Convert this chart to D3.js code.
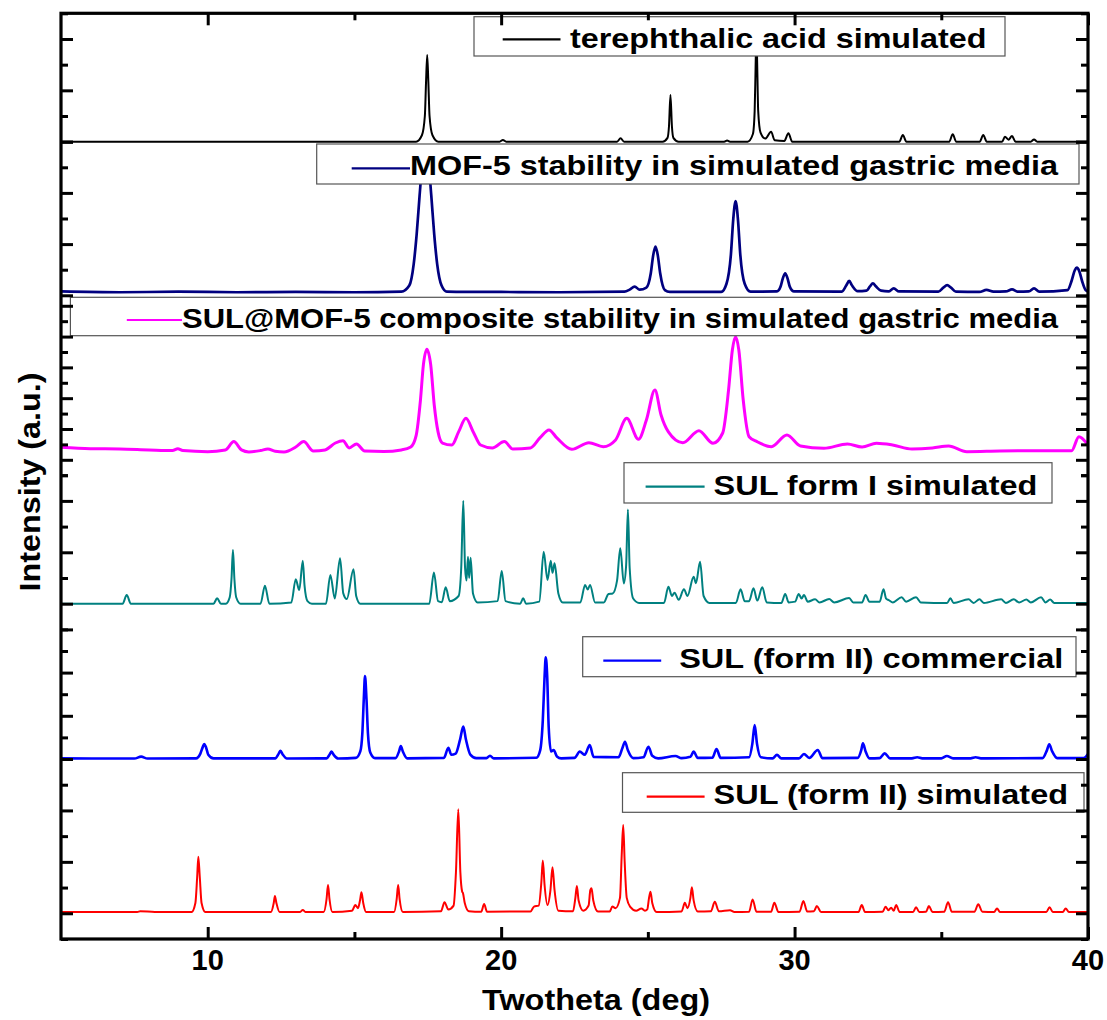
<!DOCTYPE html>
<html>
<head>
<meta charset="utf-8">
<script src="https://cdn.jsdelivr.net/npm/d3@7/dist/d3.min.js"></script>
<style>
  body { margin: 0; background: #fff; }
  svg text { font-family: "Liberation Sans", Arial, sans-serif; font-weight: bold; fill: #000; }
</style>
</head>
<body>
<svg id="chart" width="1107" height="1020"></svg>
<script>
// ---------- data: [2theta (deg), intensity (a.u., per-panel units)] ----------
const xMajorTicks = [10, 20, 30, 40];
const xMinorTicks = [15, 25, 35];
const xTickLabels = ["10", "20", "30", "40"];

const seriesLabels = [
  "terephthalic acid simulated",
  "MOF-5 stability in simulated gastric media",
  "SUL@MOF-5 composite stability in simulated gastric media",
  "SUL form I simulated",
  "SUL (form II) commercial",
  "SUL (form II) simulated"
];

const terephthalicSim = [
  [5,0],[17.1,0],[17.3,0.25],[17.4,1.0],[17.44,2.3],[17.48,3.38],[17.52,2.3],[17.56,1.0],[17.66,0.25],[17.86,0],
  [19.95,0],[20.06,0.07],[20.17,0],
  [23.95,0],[24.07,0.13],[24.19,0],
  [25.5,0],[25.67,0.15],[25.72,0.6],[25.77,1.82],[25.82,0.6],[25.87,0.15],[26.05,0],
  [27.6,0],[27.7,0.05],[27.8,0],
  [28.4,0],[28.58,0.3],[28.64,1.2],[28.67,2.8],[28.7,4.3],[28.73,2.8],[28.76,1.2],[28.84,0.35],[29.0,0.12],[29.2,0.39],[29.32,0.06],[29.65,0.03],[29.79,0.33],[29.92,0],
  [33.57,0],[33.69,0.26],[33.81,0],
  [35.27,0],[35.39,0.29],[35.51,0],
  [36.31,0],[36.43,0.26],[36.55,0],
  [37.07,0],[37.17,0.19],[37.29,0.08],[37.41,0.22],[37.53,0],
  [38.05,0],[38.16,0.09],[38.27,0],
  [40,0]
];

const mof5Gastric = [
  [5,0.15],[7,0.12],[9,0.14],[11,0.12],[13,0.13],[15,0.12],[16.6,0.14],
  [16.87,0.38],[17.02,1.22],[17.12,2.37],[17.22,3.88],[17.32,5.24],[17.42,5.8],[17.52,5.24],[17.62,3.88],[17.72,2.37],[17.82,1.22],[17.97,0.38],[18.15,0.14],
  [20,0.13],[22,0.12],[24.2,0.14],
  [24.38,0.22],[24.55,0.34],[24.72,0.22],
  [24.95,0.3],[25.1,0.86],[25.18,1.55],[25.26,1.9],[25.34,1.55],[25.42,0.86],[25.58,0.2],[25.75,0.13],
  [27.5,0.13],[27.68,0.45],[27.83,1.59],[27.91,2.97],[27.99,3.68],[28.07,2.97],[28.15,1.59],[28.3,0.45],[28.5,0.14],
  [29.4,0.15],[29.52,0.33],[29.6,0.66],[29.68,0.86],[29.76,0.66],[29.84,0.33],[29.98,0.15],
  [31.6,0.14],[31.76,0.38],[31.86,0.56],[31.96,0.38],[32.15,0.16],
  [32.45,0.18],[32.57,0.35],[32.67,0.47],[32.77,0.35],[32.95,0.18],
  [33.2,0.15],[33.38,0.27],[33.56,0.15],
  [34.9,0.14],[35.07,0.3],[35.2,0.4],[35.33,0.3],[35.5,0.14],
  [36.3,0.13],[36.54,0.21],[36.78,0.14],
  [37.2,0.15],[37.41,0.23],[37.62,0.14],
  [37.98,0.15],[38.16,0.27],[38.34,0.14],
  [39.3,0.2],[39.45,0.6],[39.55,0.98],[39.62,1.08],[39.7,0.95],[39.8,0.55],[39.92,0.2],[40,0.15]
];

const sulMof5Gastric = [
  [5.0,0.81],[6.0,0.72],[7.0,0.70],[8.0,0.64],[8.8,0.6],[8.98,0.72],[9.15,0.6],[10.0,0.53],[10.6,0.64],[10.89,1.18],
  [11.15,0.64],[11.4,0.51],[11.8,0.6],[12.05,0.70],[12.3,0.55],[12.6,0.51],[13.0,0.83],[13.27,1.18],[13.6,0.57],[14.0,0.64],
  [14.35,1.09],[14.61,1.24],[14.82,0.77],[15.07,1.03],[15.35,0.57],[16.0,0.54],[16.6,0.64],[16.92,0.83],[17.1,1.55],[17.25,3.88],
  [17.35,6.16],[17.47,7.18],[17.6,6.16],[17.72,3.56],[17.85,1.81],[18.0,1.09],[18.32,0.96],[18.55,1.81],[18.8,2.69],[19.05,1.81],
  [19.3,0.96],[19.7,0.77],[20.11,1.18],[20.4,0.70],[21.0,0.77],[21.32,1.42],[21.63,1.94],[21.9,1.42],[22.41,0.68],[22.99,1.11],
  [23.48,0.85],[23.9,1.29],[24.28,2.69],[24.68,1.33],[24.95,2.58],[25.24,4.53],[25.45,2.91],[25.7,1.81],[26.19,1.11],[26.74,1.89],
  [27.22,1.07],[27.55,1.74],[27.75,4.53],[27.88,7.13],[27.99,7.99],[28.1,7.13],[28.25,3.88],[28.45,1.5],[28.72,1.18],[29.21,0.85],
  [29.74,1.61],[30.2,0.9],[31.0,0.75],[31.8,1.03],[32.3,0.83],[32.79,1.07],[33.34,0.96],[34.0,0.70],[34.7,0.77],[35.25,0.9],
  [35.87,0.53],[37.0,0.57],[38.5,0.59],[39.44,0.59],[39.69,1.5],[40.0,0.96]
];

const sulFormISim = [
  [5,0],[7.1,0],[7.24,0.34],[7.38,0],
  [10.2,0],[10.32,0.21],[10.45,0],
  [10.62,0],[10.75,0.25],[10.81,0.95],[10.86,2.09],[10.91,0.95],[10.97,0.25],[11.12,0],
  [11.8,0],[11.95,0.7],[12.1,0],
  [12.85,0.05],[13.0,0.95],[13.12,0.53],[13.24,1.67],[13.3,0.7],[13.4,0.1],[13.55,0],
  [14.03,0],[14.18,1.12],[14.33,0.2],[14.51,1.77],[14.62,0.4],[14.74,0.18],[14.97,1.34],[15.06,0.3],[15.2,0],
  [17.55,0],[17.71,1.21],[17.85,0.1],[17.98,0.06],[18.11,0.64],[18.25,0.1],
  [18.55,0.3],[18.64,1.4],[18.71,4.01],[18.77,1.4],[18.82,0.9],[18.87,1.83],[18.91,1.0],[18.96,1.79],[19.04,0.4],[19.2,0.05],
  [19.88,0.1],[20.02,1.27],[20.15,0.1],
  [20.65,0],[20.75,0.21],[20.85,0],
  [21.3,0.08],[21.45,2.02],[21.58,0.92],[21.69,1.67],[21.75,1.2],[21.82,1.57],[21.95,0.4],[22.1,0.05],
  [22.7,0.05],[22.86,0.73],[22.95,0.55],[23.03,0.73],[23.2,0.05],
  [23.5,0.05],[23.66,0.38],[23.8,0.4],[23.95,0.9],[24.06,2.16],[24.18,0.79],[24.26,1.5],[24.32,3.67],[24.38,1.4],[24.5,0.2],[24.7,0.03],
  [25.55,0.03],[25.7,0.66],[25.82,0.3],[25.91,0.43],[26.05,0.15],[26.23,0.56],[26.35,0.3],[26.56,1.05],[26.64,0.8],[26.78,1.63],[26.9,0.3],[27.1,0.03],
  [28.0,0.03],[28.16,0.56],[28.3,0.1],[28.45,0.1],[28.6,0.6],[28.73,0.12],[28.9,0.64],[29.05,0.05],
  [29.55,0.03],[29.68,0.38],[29.8,0.05],
  [30.02,0.08],[30.14,0.38],[30.24,0.2],[30.32,0.34],[30.45,0.08],[30.7,0.17],[30.85,0.05],
  [31.18,0.18],[31.35,0.05],[31.86,0.22],[32.0,0.05],
  [32.3,0.05],[32.42,0.34],[32.55,0.08],[32.9,0.08],[33.03,0.56],[33.12,0.2],[33.21,0.14],[33.35,0.05],
  [33.65,0.25],[33.8,0.08],[34.14,0.25],[34.3,0.05],
  [35.2,0.03],[35.31,0.21],[35.42,0.03],[35.93,0.17],[36.1,0.03],[36.3,0.17],[36.45,0.03],
  [37.04,0.17],[37.2,0.03],[37.47,0.17],[37.65,0.05],[37.9,0.16],[38.05,0.05],[38.4,0.25],[38.55,0.05],[38.71,0.16],[38.85,0.03],[40,0.03]
];

const sulFormIICommercial = [
  [5,0.03],[7.5,0.02],[7.73,0.11],[7.95,0.02],
  [9.6,0.03],[9.75,0.25],[9.83,0.55],[9.88,0.69],[9.94,0.55],[10.02,0.2],[10.2,0.03],
  [12.3,0.03],[12.42,0.25],[12.48,0.38],[12.56,0.2],[12.7,0.02],
  [14.05,0.03],[14.16,0.22],[14.22,0.34],[14.3,0.18],[14.45,0.02],
  [15.05,0.05],[15.2,0.35],[15.27,1.2],[15.32,2.8],[15.36,3.84],[15.41,2.8],[15.46,1.2],[15.54,0.3],[15.7,0.04],
  [16.4,0.04],[16.52,0.35],[16.58,0.6],[16.65,0.35],[16.8,0.03],
  [18.05,0.05],[18.2,0.52],[18.3,0.2],[18.45,0.25],[18.6,0.9],[18.71,1.5],[18.8,0.9],[18.95,0.2],[19.15,0.04],
  [19.5,0.04],[19.62,0.15],[19.75,0.03],
  [21.2,0.06],[21.33,0.4],[21.42,1.8],[21.48,3.8],[21.52,4.71],[21.57,3.8],[21.62,1.5],[21.7,0.35],[21.79,0.42],[21.9,0.12],[22.05,0.03],
  [22.5,0.05],[22.68,0.34],[22.85,0.2],[23.02,0.65],[23.15,0.1],
  [24.0,0.08],[24.13,0.5],[24.22,0.8],[24.32,0.4],[24.5,0.04],
  [24.85,0.08],[25.02,0.57],[25.15,0.15],[25.35,0.03],
  [25.94,0.14],[26.15,0.04],[26.45,0.1],[26.56,0.34],[26.7,0.05],
  [27.2,0.06],[27.34,0.46],[27.48,0.05],
  [28.45,0.08],[28.56,0.7],[28.64,1.57],[28.72,0.7],[28.85,0.08],
  [29.25,0.03],[29.4,0.19],[29.55,0.03],
  [30.15,0.03],[30.32,0.23],[30.5,0.05],[30.79,0.42],[30.95,0.04],
  [32.15,0.05],[32.27,0.4],[32.33,0.73],[32.42,0.35],[32.55,0.03],
  [32.9,0.04],[33.07,0.26],[33.25,0.03],
  [34.0,0.03],[34.18,0.08],[34.35,0.03],[35.0,0.03],[35.19,0.14],[35.4,0.03],[36.0,0.03],[36.17,0.08],[36.35,0.03],
  [38.45,0.04],[38.6,0.4],[38.68,0.68],[38.78,0.35],[38.95,0.04],
  [39.85,0.04],[40,0.23]
];

const sulFormIISim = [
  [5,0.05],[7.6,0.05],[7.7,0.08],[8.2,0.05],
  [9.45,0.05],[9.58,0.4],[9.64,1.4],[9.68,2.2],[9.73,1.4],[9.79,0.4],[9.92,0.05],
  [12.15,0.05],[12.25,0.4],[12.29,0.67],[12.34,0.4],[12.45,0.05],
  [13.15,0.05],[13.24,0.13],[13.33,0.05],
  [13.95,0.05],[14.05,0.55],[14.1,1.1],[14.15,0.55],[14.25,0.05],
  [14.92,0.1],[15.03,0.32],[15.12,0.2],[15.19,0.5],[15.24,0.82],[15.3,0.4],[15.4,0.05],
  [16.35,0.05],[16.44,0.55],[16.49,1.1],[16.54,0.55],[16.65,0.05],
  [17.95,0.08],[18.07,0.43],[18.2,0.15],[18.38,0.3],[18.46,1.6],[18.54,4.05],[18.61,1.6],[18.67,0.85],[18.7,0.78],[18.76,0.4],[18.9,0.08],
  [19.32,0.06],[19.42,0.36],[19.52,0.06],
  [21.0,0.07],[21.12,0.26],[21.28,0.3],[21.37,1.2],[21.42,2.05],[21.48,1.1],[21.58,0.32],[21.68,0.9],[21.75,1.79],[21.82,0.9],[21.95,0.1],
  [22.45,0.08],[22.53,0.6],[22.58,1.06],[22.64,0.5],[22.8,0.1],[22.98,0.3],[23.04,0.9],[23.08,0.97],[23.14,0.5],[23.3,0.07],
  [23.7,0.07],[23.79,0.26],[23.9,0.2],[24.05,0.6],[24.11,2.3],[24.16,3.43],[24.21,2.0],[24.28,0.6],[24.4,0.25],[24.6,0.1],[24.78,0.19],[24.9,0.1],
  [24.98,0.15],[25.04,0.6],[25.09,0.84],[25.15,0.4],[25.3,0.05],
  [26.15,0.07],[26.26,0.41],[26.35,0.2],[26.45,0.6],[26.5,1.01],[26.56,0.5],[26.7,0.07],
  [27.15,0.08],[27.28,0.45],[27.42,0.08],[27.8,0.12],[27.95,0.05],
  [28.45,0.06],[28.57,0.54],[28.7,0.06],
  [29.2,0.06],[29.31,0.41],[29.45,0.05],
  [30.17,0.06],[30.3,0.48],[30.43,0.07],[30.66,0.08],[30.76,0.28],[30.9,0.05],
  [32.18,0.05],[32.29,0.32],[32.4,0.05],
  [33.0,0.06],[33.1,0.25],[33.2,0.12],[33.29,0.22],[33.38,0.1],[33.46,0.32],[33.58,0.05],
  [34.04,0.05],[34.14,0.23],[34.25,0.05],[34.48,0.06],[34.58,0.28],[34.7,0.05],
  [35.1,0.06],[35.23,0.43],[35.36,0.06],
  [36.13,0.06],[36.26,0.35],[36.4,0.06],[36.8,0.05],[36.9,0.19],[37.0,0.05],
  [38.58,0.05],[38.69,0.23],[38.8,0.05],[39.14,0.05],[39.24,0.19],[39.35,0.05],[40,0.05]
];

// ---------- layout ----------
const W = 1107, H = 1020;
const frame = { left: 61, right: 1088, top: 13.3, bottom: 939 };

// one stacked layer per pattern: pixel band, intensity domain, stroke
const layers = [
  { data: terephthalicSim,     top: 13.3,  bottom: 141.7, domain: [0, 5],      color: "#000000", width: 2.0,
    legend: { box: [474, 16.7, 1005, 56],     line: [502.7, 560.5, 39.3], text: [570, 986.5, 48] } },
  { data: mof5Gastric,         top: 141.7, bottom: 295.3, domain: [0, 6],      color: "#000080", width: 2.7,
    legend: { box: [316.7, 144, 1079, 184],   line: [351.7, 410, 168.3],  text: [410, 1058, 175] } },
  { data: sulMof5Gastric,      top: 295.3, bottom: 475.2, domain: [-1, 10.68], color: "#ff00ff", width: 3.0,
    legend: { box: [70.4, 297.3, 1088, 335.7], line: [126.8, 182, 320],   text: [182, 1058, 328] } },
  { data: sulFormISim,         top: 475.2, bottom: 629.4, domain: [-1, 5],     color: "#008080", width: 2.0,
    legend: { box: [624, 462.7, 1052, 503],   line: [645.6, 704.6, 486.7], text: [713.6, 1037.3, 495] } },
  { data: sulFormIICommercial, top: 629.4, bottom: 759,   domain: [0, 6],      color: "#0000ff", width: 2.6,
    legend: { box: [582.7, 636.7, 1076, 676.7], line: [603.3, 661.2, 660.7], text: [679.2, 1063.3, 668.3] } },
  { data: sulFormIISim,        top: 759,   bottom: 939,   domain: [-1, 6],     color: "#ff0000", width: 2.0,
    legend: { box: [622.5, 772.7, 1084, 812.3], line: [646.7, 704.6, 796.7], text: [713.6, 1068, 804] } }
];

const svg = d3.select("#chart");
svg.append("rect").attr("width", W).attr("height", H).attr("fill", "#fff");

const x = d3.scaleLinear().domain([5, 40]).range([frame.left, frame.right]);

svg.append("defs").append("clipPath").attr("id", "plotClip")
  .append("rect")
  .attr("x", frame.left).attr("y", frame.top)
  .attr("width", frame.right - frame.left).attr("height", frame.bottom - frame.top);

const curves = svg.append("g").attr("clip-path", "url(#plotClip)");
const legends = svg.append("g");
const axes = svg.append("g");

layers.forEach((L, i) => {
  const y = d3.scaleLinear().domain(L.domain).range([L.bottom, L.top]);
  L.y = y;
  const line = d3.line().x(d => x(d[0])).y(d => y(d[1])).curve(d3.curveMonotoneX);
  curves.append("path")
    .datum(L.data)
    .attr("fill", "none")
    .attr("stroke", L.color)
    .attr("stroke-width", L.width)
    .attr("stroke-linejoin", "round")
    .attr("d", line);
});

// legends (drawn over the patterns)
layers.forEach((L, i) => {
  const g = legends.append("g");
  const [bx0, by0, bx1, by1] = L.legend.box;
  g.append("rect")
    .attr("x", bx0).attr("y", by0).attr("width", bx1 - bx0).attr("height", by1 - by0)
    .attr("fill", "#fff").attr("stroke", "#555").attr("stroke-width", 1.2);
  const [lx0, lx1, ly] = L.legend.line;
  g.append("line").attr("x1", lx0).attr("x2", lx1).attr("y1", ly).attr("y2", ly)
    .attr("stroke", L.color).attr("stroke-width", 2.2);
  const [tx0, tx1, ty] = L.legend.text;
  g.append("text")
    .attr("x", tx0).attr("y", ty)
    .attr("font-size", 28)
    .attr("textLength", tx1 - tx0)
    .attr("lengthAdjust", "spacingAndGlyphs")
    .text(seriesLabels[i]);
});

// per-layer y ticks on both sides, pointing inward
function styleAxis(g) {
  g.select(".domain").remove();
  g.selectAll(".tick line").attr("stroke", "#000").attr("stroke-width", 3);
  g.selectAll(".tick text").remove();
}
layers.forEach(L => {
  const [d0, d1] = L.domain;
  const vals = d3.range(Math.ceil(d0), Math.floor(d1) + 1);
  const major = vals.filter(v => v % 2 === 0);
  const minor = vals.filter(v => v % 2 !== 0);
  [[major, 12], [minor, 7]].forEach(([tv, len]) => {
    axes.append("g").attr("transform", `translate(${frame.left},0)`)
      .call(d3.axisRight(L.y).tickValues(tv).tickSize(len).tickFormat(""))
      .call(styleAxis);
    axes.append("g").attr("transform", `translate(${frame.right},0)`)
      .call(d3.axisLeft(L.y).tickValues(tv).tickSize(len).tickFormat(""))
      .call(styleAxis);
  });
});

// x ticks on bottom and top, pointing inward
[[xMajorTicks, 12], [xMinorTicks, 7]].forEach(([tv, len]) => {
  axes.append("g").attr("transform", `translate(0,${frame.bottom})`)
    .call(d3.axisTop(x).tickValues(tv).tickSize(len).tickFormat(""))
    .call(styleAxis);
  axes.append("g").attr("transform", `translate(0,${frame.top})`)
    .call(d3.axisBottom(x).tickValues(tv).tickSize(len).tickFormat(""))
    .call(styleAxis);
});

// frame
axes.append("rect")
  .attr("x", frame.left).attr("y", frame.top)
  .attr("width", frame.right - frame.left).attr("height", frame.bottom - frame.top)
  .attr("fill", "none").attr("stroke", "#000").attr("stroke-width", 3.2);

// x tick labels
axes.selectAll("text.xtick")
  .data(xMajorTicks)
  .join("text")
  .attr("class", "xtick")
  .attr("x", d => x(d)).attr("y", 970)
  .attr("text-anchor", "middle")
  .attr("font-size", 29)
  .text((d, i) => xTickLabels[i]);

// axis titles
axes.append("text")
  .attr("x", (482 + 710) / 2).attr("y", 1010)
  .attr("text-anchor", "middle")
  .attr("font-size", 30)
  .attr("textLength", 228).attr("lengthAdjust", "spacingAndGlyphs")
  .text("Twotheta (deg)");

axes.append("text")
  .attr("transform", "translate(40,482) rotate(-90)")
  .attr("text-anchor", "middle")
  .attr("font-size", 30)
  .attr("textLength", 219).attr("lengthAdjust", "spacingAndGlyphs")
  .text("Intensity (a.u.)");
</script>
</body>
</html>
